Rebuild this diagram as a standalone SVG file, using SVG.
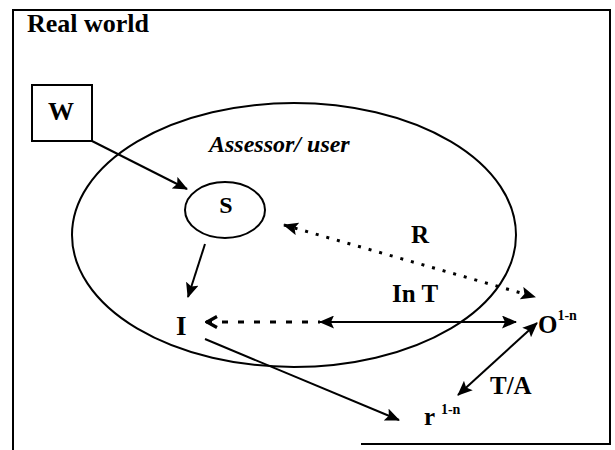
<svg xmlns="http://www.w3.org/2000/svg" width="615" height="450" viewBox="0 0 615 450">
<style>
text{font-family:"Liberation Serif","Times New Roman",serif;font-weight:bold;fill:#000}
.ln{stroke:#000;stroke-width:2;fill:none}
.dot{stroke:#000;stroke-width:3;fill:none;stroke-dasharray:3 8}
.dash{stroke:#000;stroke-width:3;fill:none;stroke-dasharray:6 10}
</style>
<defs>
<marker id="ah" viewBox="0 0 15 13" refX="14" refY="6.5" markerWidth="15" markerHeight="13" markerUnits="userSpaceOnUse" orient="auto-start-reverse"><path d="M0,0 L15,6.5 L0,13 L3,6.5 z" fill="#000"/></marker>
<marker id="chev" viewBox="0 0 14 14" refX="13" refY="7" markerWidth="14" markerHeight="14" markerUnits="userSpaceOnUse" orient="auto-start-reverse"><path d="M2,1.5 L12,7 L2,12.5" fill="none" stroke="#000" stroke-width="3.2"/></marker>
</defs>
<g id="frame">
<path d="M13,450 L13,10 L610,10 L610,444 L361,444" class="ln" stroke-width="2.5"/>
<text x="27" y="32" font-size="26">Real world</text>
</g>
<g id="assessor">
<ellipse cx="294" cy="235" rx="222" ry="132" class="ln"/>
<text x="209" y="152" font-size="24" font-style="italic">Assessor/ user</text>
</g>
<g id="W">
<rect x="32" y="85" width="60" height="56" class="ln" stroke-width="2.5"/>
<text x="61" y="120" font-size="26" text-anchor="middle">W</text>
</g>
<g id="S">
<ellipse cx="225" cy="210" rx="40" ry="28" class="ln"/>
<text x="226" y="213" font-size="24" text-anchor="middle">S</text>
</g>
<g id="I"><text x="176" y="335" font-size="27">I</text></g>
<g id="O"><text x="538" y="333" font-size="25">O<tspan font-size="14" dy="-13">1-n</tspan></text></g>
<g id="r"><text x="424" y="425" font-size="25">r <tspan font-size="14" dy="-11">1-n</tspan></text></g>
<g id="labels">
<text x="411" y="243" font-size="25">R</text>
<text x="392" y="302" font-size="25">In T</text>
<text x="490" y="394" font-size="25">T/A</text>
</g>
<g id="connectors">
<path d="M92,141 L187,189" class="ln" marker-end="url(#ah)"/>
<path d="M205,244 L188,297" class="ln" marker-end="url(#ah)"/>
<path d="M284,225 L535,297" class="dot" marker-start="url(#ah)" marker-end="url(#ah)"/>
<path d="M206,322 L320,322" class="dash" marker-start="url(#chev)"/>
<path d="M320,322 L516,322" class="ln" stroke-width="2.5" marker-start="url(#ah)" marker-end="url(#ah)"/>
<path d="M537,323 L458,395" class="ln" stroke-width="2.5" marker-start="url(#ah)" marker-end="url(#ah)"/>
<path d="M205,339 L399,420" class="ln" stroke-width="2.5" marker-end="url(#ah)"/>
</g>
</svg>
